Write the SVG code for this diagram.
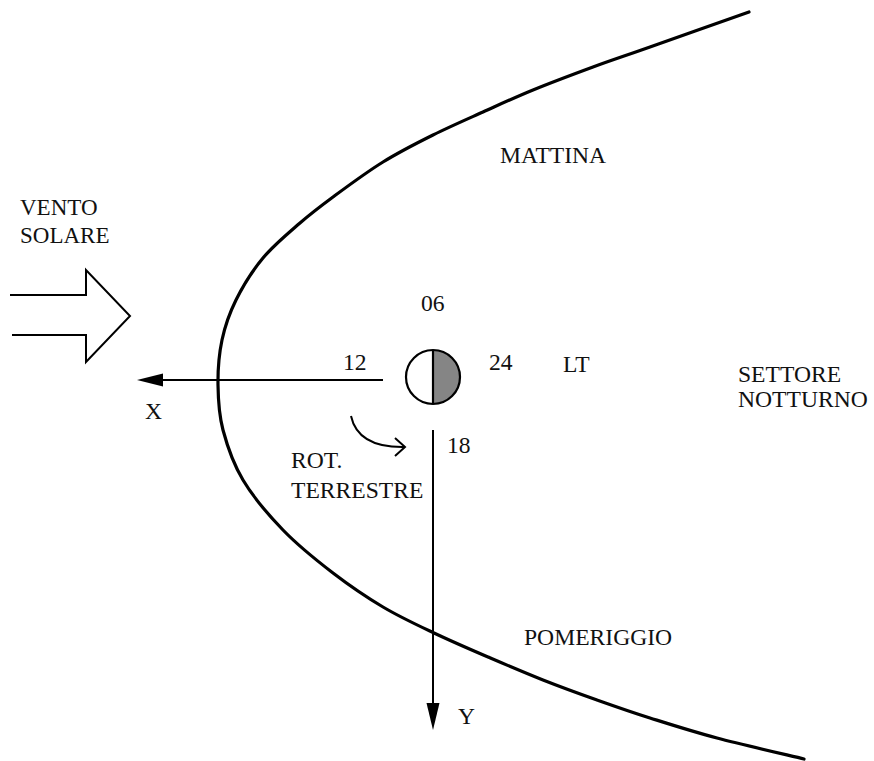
<svg xmlns="http://www.w3.org/2000/svg" width="874" height="761" viewBox="0 0 874 761">
<style>
text { font-family: "Liberation Serif", "Times New Roman", serif; font-size: 23.6px; fill: #111; }
text.sw { font-size: 23px; }
.ln { fill: none; stroke: #000; stroke-width: 2; }
.bow { fill: none; stroke: #000; stroke-width: 3.2; stroke-linecap: round; }
.head { fill: #000; stroke: none; }
</style>
<rect x="0" y="0" width="874" height="761" fill="#fff"/>
<g id="bow-shock">
<path class="bow" d="M749,12 C732.5,17.8 676,37.8 650,47 C624,56.2 612.5,59.8 593,67 C573.5,74.2 551.3,82.5 533,90 C514.7,97.5 499.7,104.5 483,112 C466.3,119.5 449.7,126.7 433,135 C416.3,143.3 399.7,151.7 383,162 C366.3,172.3 346.8,186.8 333,197 C319.2,207.2 311.7,212.8 300,223 C288.3,233.2 273.7,245.2 263,258 C252.3,270.8 242.8,286.3 236,300 C229.2,313.7 225,325.8 222,340 C219,354.2 217.8,370 218,385 C218.2,400 218.8,414.2 223,430 C227.2,445.8 233,463.3 243,480 C253,496.7 268,514.5 283,530 C298,545.5 316.3,560.2 333,573 C349.7,585.8 366.2,597 383,607 C399.8,617 416.5,624.7 434,633 C451.5,641.3 469.8,649.2 488,657 C506.2,664.8 524.8,672.8 543,680 C561.2,687.2 579.2,693.7 597,700 C614.8,706.3 630,711.7 650,718 C670,724.3 691.3,731.2 717,738 C742.7,744.8 789.5,755.5 804,759"/>
</g>
<g id="solar-wind">
<path class="ln" d="M10,295 L86,295 L86,270 L130,316 L86,362 L86,335 L12,335"/>
<text class="sw" x="20" y="215">VENTO</text>
<text class="sw" x="20" y="243">SOLARE</text>
</g>
<g id="earth">
<path d="M433,350 A27,27 0 0 1 433,404 Z" fill="#858585"/>
<circle cx="433" cy="377" r="27" fill="none" stroke="#000" stroke-width="2.2"/>
<line x1="433" y1="350" x2="433" y2="404" stroke="#000" stroke-width="2.2"/>
</g>
<g id="connectors">
<line class="ln" x1="383" y1="380" x2="160" y2="380"/>
<polygon class="head" points="163,373.5 163,386.5 137,380"/>
<line class="ln" x1="433" y1="430" x2="433" y2="706"/>
<polygon class="head" points="426.5,703 439.5,703 433,730"/>
<path class="ln" d="M351,416 Q358,448 405,447"/>
<path class="ln" d="M395,438 L405,447 L395,456"/>
</g>
<g id="labels">
<text x="500" y="163">MATTINA</text>
<text x="421" y="311">06</text>
<text x="343" y="370">12</text>
<text x="489" y="370">24</text>
<text x="447" y="453">18</text>
<text x="563" y="372">LT</text>
<text x="738" y="382">SETTORE</text>
<text x="738" y="407">NOTTURNO</text>
<text x="145" y="419">X</text>
<text x="458" y="724">Y</text>
<text x="291" y="468">ROT.</text>
<text x="291" y="498">TERRESTRE</text>
<text x="524" y="645">POMERIGGIO</text>
</g>
</svg>
